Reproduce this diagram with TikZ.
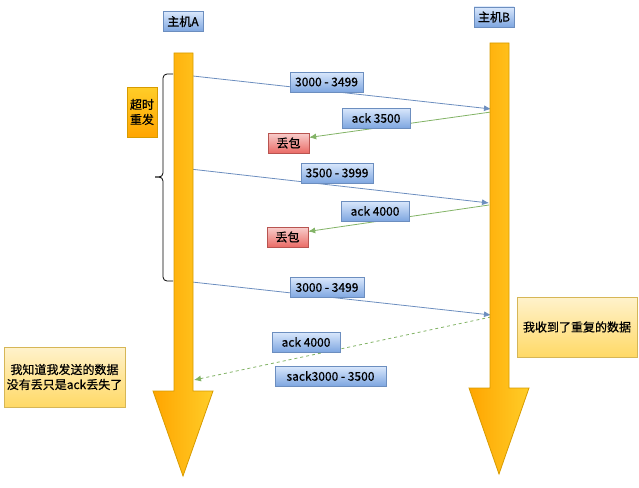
\documentclass[tikz,border=0pt]{standalone}
\usepackage{fontspec}
\setmainfont{Noto Sans CJK SC}[FakeBold=0.6]
\usetikzlibrary{arrows.meta,backgrounds}
\definecolor{msgline}{HTML}{6C8EBF}
\definecolor{tagtop}{HTML}{DAE8FC}
\definecolor{tagbot}{HTML}{7EA6E0}
\definecolor{ackline}{HTML}{82B366}
\definecolor{lostline}{HTML}{B85450}
\definecolor{losttop}{HTML}{F8CECC}
\definecolor{lostbot}{HTML}{EA6B66}
\definecolor{noteline}{HTML}{D6B656}
\definecolor{notetop}{HTML}{FFF2CC}
\definecolor{notebot}{HTML}{FFD966}
\definecolor{lifeline}{HTML}{D79B00}
\definecolor{lifedark}{HTML}{FFA500}
\definecolor{lifelight}{HTML}{FFCD28}
\tikzset{
  box/.style={draw, align=center, inner sep=1pt, minimum height=20pt,
    font=\fontsize{12}{15}\selectfont},
  tag/.style={box, draw=msgline, top color=tagtop, bottom color=tagbot},
  lost/.style={box, draw=lostline, top color=losttop, bottom color=lostbot},
  note/.style={box, draw=noteline, top color=notetop, bottom color=notebot},
  warn/.style={box, draw=lifeline, top color=lifelight, bottom color=lifedark},
  life/.style={draw=lifeline, line width=0.8pt, left color=lifedark, right color=lifelight},
  send/.style={draw=msgline, line width=0.8pt, -{Latex[length=7pt,width=6pt]}},
  reply/.style={draw=ackline, line width=0.8pt, -{Latex[length=7pt,width=6pt]}},
}

\begin{document}
\begin{tikzpicture}[x=1pt, y=-1pt]
    \useasboundingbox (0,0) rectangle (639,487);
    % lifelines
    \draw[life] (174,53) -- (193,53) -- (193,391) -- (213,391) -- (183,476)
      -- (153,391) -- (174,391) -- cycle;
    \draw[life] (490,43) -- (509,43) -- (509,388) -- (529,388) -- (499,474)
      -- (469,388) -- (490,388) -- cycle;
    \node[tag, minimum width=40pt] (hA) at (183,21.5) {主机A};
    \node[tag, minimum width=40pt] (hB) at (494,17) {主机B};
    % ends on the lifelines
    \coordinate (a1) at (193,76);   \coordinate (b1) at (491,109);
    \coordinate (b2) at (491,112);
    \coordinate (a2) at (190,169);  \coordinate (b3) at (489,203);
    \coordinate (b4) at (489,205);
    \coordinate (a3) at (192,282);  \coordinate (b5) at (491,315);
    \coordinate (b6) at (491,317);  \coordinate (a4) at (194,380);
    % labels
    \node[tag, minimum width=73pt] (m1) at (326.5,82) {3000 - 3499};
    \node[tag, minimum width=68pt] (k1) at (376,118) {ack 3500};
    \node[lost, minimum width=41pt] (d1) at (288.5,143) {丢包};
    \node[tag, minimum width=72pt] (m2) at (337,173) {3500 - 3999};
    \node[tag, minimum width=68pt] (k2) at (375,211) {ack 4000};
    \node[lost, minimum width=41pt] (d2) at (287.5,237) {丢包};
    \node[tag, minimum width=74pt] (m3) at (327,287.5) {3000 - 3499};
    \node[tag, minimum width=68pt] (k3) at (306,342) {ack 4000};
    \node[tag, minimum width=111pt] (s) at (330.5,376) {sack3000 - 3500};
    \node[note, minimum width=120pt, minimum height=60pt] (r) at (577,327) {我收到了重复的数据};
    \node[note, minimum width=121pt, minimum height=60pt] (n) at (64.5,377)
      {我知道我发送的数据\\没有丢只是ack丢失了};
    \node[warn, minimum width=30pt, minimum height=50pt] (t) at (142,112) {超时\\重发};
    % timeout brace
    \draw[line width=0.8pt, rounded corners=4pt] (173,74) -- (163,74) -- (163,177) -- (155,177);
    \draw[line width=0.8pt, rounded corners=4pt] (155,177) -- (163,177) -- (163,281) -- (173,281);
    % segments
    \begin{scope}[on background layer]
      \draw[send] (a1) -- (b1);
      \draw[reply] (b2) -- (d1.15);
      \draw[send] (a2) -- (b3);
      \draw[reply] (b4) -- (d2.15);
      \draw[send] (a3) -- (b5);
      \draw[reply, dash pattern=on 3pt off 3pt] (b6) -- (a4);
    \end{scope}
  \end{tikzpicture}
\end{document}
